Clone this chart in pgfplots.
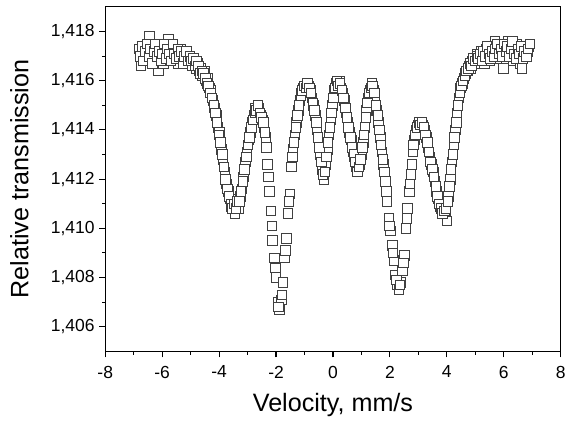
\documentclass[border=0pt]{standalone}
\usepackage{pgfplots}
\pgfplotsset{compat=1.18}
\usepackage{fontspec}
\setmainfont{Liberation Sans}
\pgfplotstableread{
x y
-6.80 1.4173
-6.74 1.4166
-6.68 1.4171
-6.62 1.4174
-6.56 1.4169
-6.50 1.4172
-6.44 1.4178
-6.38 1.4170
-6.32 1.4175
-6.26 1.4168
-6.20 1.4173
-6.14 1.4164
-6.08 1.4170
-6.02 1.4174
-5.96 1.4167
-5.90 1.4172
-5.84 1.4170
-5.78 1.4177
-5.72 1.4169
-5.66 1.4174
-5.60 1.4168
-5.54 1.4172
-5.48 1.4170
-5.42 1.4167
-5.36 1.4173
-5.30 1.4169
-5.24 1.4171
-5.18 1.4168
-5.12 1.4170
-5.06 1.4167
-5.00 1.4169
-4.94 1.4166
-4.88 1.4168
-4.82 1.4165
-4.76 1.4167
-4.70 1.4164
-4.64 1.4165
-4.58 1.4162
-4.52 1.4164
-4.46 1.4160
-4.40 1.4161
-4.34 1.4157
-4.28 1.4156
-4.22 1.4152
-4.16 1.4149
-4.10 1.4146
-4.04 1.4141
-3.98 1.4139
-3.92 1.4132
-3.86 1.4128
-3.80 1.4123
-3.74 1.4118
-3.68 1.4115
-3.62 1.4112
-3.56 1.4109
-3.50 1.4112
-3.44 1.4106
-3.38 1.4110
-3.32 1.4108
-3.26 1.4113
-3.20 1.4116
-3.14 1.4121
-3.08 1.4127
-3.02 1.4131
-2.96 1.4136
-2.90 1.4139
-2.84 1.4143
-2.78 1.4146
-2.72 1.4149
-2.66 1.4147
-2.60 1.4149
-2.54 1.4146
-2.48 1.4144
-2.42 1.4141
-2.36 1.4137
-2.30 1.4126
-2.24 1.4115
-2.18 1.4107
-2.12 1.4095
-2.06 1.4088
-2.00 1.4080
-1.94 1.4070
-1.88 1.4067
-1.82 1.4071
-1.76 1.4078
-1.70 1.4088
-1.64 1.4096
-1.58 1.4106
-1.52 1.4114
-1.46 1.4125
-1.40 1.4132
-1.34 1.4138
-1.28 1.4143
-1.22 1.4148
-1.16 1.4152
-1.10 1.4155
-1.04 1.4157
-0.98 1.4158
-0.92 1.4157
-0.86 1.4158
-0.80 1.4156
-0.74 1.4153
-0.68 1.4150
-0.62 1.4146
-0.56 1.4140
-0.50 1.4135
-0.44 1.4130
-0.38 1.4124
-0.32 1.4120
-0.26 1.4126
-0.20 1.4132
-0.14 1.4138
-0.08 1.4144
-0.02 1.4150
0.04 1.4156
0.10 1.4159
0.16 1.4158
0.22 1.4160
0.28 1.4157
0.34 1.4155
0.40 1.4152
0.46 1.4147
0.52 1.4143
0.58 1.4139
0.64 1.4136
0.70 1.4131
0.76 1.4129
0.82 1.4125
0.88 1.4124
0.94 1.4126
1.00 1.4130
1.06 1.4135
1.12 1.4141
1.18 1.4148
1.24 1.4153
1.30 1.4156
1.36 1.4159
1.42 1.4156
1.48 1.4153
1.54 1.4148
1.60 1.4143
1.66 1.4137
1.72 1.4131
1.78 1.4126
1.84 1.4119
1.90 1.4111
1.96 1.4104
2.02 1.4099
2.08 1.4093
2.14 1.4087
2.20 1.4081
2.26 1.4077
2.32 1.4075
2.38 1.4078
2.44 1.4083
2.50 1.4089
2.56 1.4100
2.62 1.4108
2.68 1.4115
2.74 1.4122
2.80 1.4131
2.86 1.4136
2.92 1.4140
2.98 1.4142
3.04 1.4141
3.10 1.4143
3.16 1.4142
3.22 1.4140
3.28 1.4137
3.34 1.4133
3.40 1.4129
3.46 1.4126
3.52 1.4123
3.58 1.4119
3.64 1.4115
3.70 1.4112
3.76 1.4109
3.82 1.4107
3.88 1.4108
3.94 1.4106
4.00 1.4103
4.06 1.4113
4.12 1.4120
4.18 1.4127
4.24 1.4134
4.30 1.4140
4.36 1.4147
4.42 1.4153
4.48 1.4157
4.54 1.4159
4.60 1.4161
4.66 1.4163
4.72 1.4164
4.78 1.4166
4.84 1.4165
4.90 1.4168
4.96 1.4167
5.02 1.4169
5.08 1.4171
5.14 1.4168
5.20 1.4172
5.26 1.4170
5.32 1.4167
5.38 1.4173
5.44 1.4171
5.50 1.4168
5.56 1.4174
5.62 1.4170
5.68 1.4176
5.74 1.4172
5.80 1.4169
5.86 1.4175
5.92 1.4171
5.98 1.4165
6.04 1.4173
6.10 1.4169
6.16 1.4176
6.22 1.4171
6.28 1.4175
6.34 1.4168
6.40 1.4172
6.46 1.4175
6.52 1.4170
6.58 1.4167
6.64 1.4165
6.70 1.4171
6.76 1.4174
6.82 1.4172
6.88 1.4174
}\dataA
\pgfplotstableread{
x y
-6.77 1.4170
-6.71 1.4174
-6.65 1.4168
-6.59 1.4172
-6.53 1.4175
-6.47 1.4170
-6.41 1.4173
-6.35 1.4167
-6.29 1.4172
-6.23 1.4175
-6.17 1.4170
-6.11 1.4172
-6.05 1.4168
-5.99 1.4171
-5.93 1.4175
-5.87 1.4169
-5.81 1.4173
-5.75 1.4171
-5.69 1.4168
-5.63 1.4175
-5.57 1.4171
-5.51 1.4169
-5.45 1.4173
-5.39 1.4170
-5.33 1.4172
-5.27 1.4167
-5.21 1.4170
-5.15 1.4172
-5.09 1.4168
-5.03 1.4170
-4.97 1.4168
-4.91 1.4169
-4.85 1.4166
-4.79 1.4168
-4.73 1.4166
-4.67 1.4163
-4.61 1.4164
-4.55 1.4163
-4.49 1.4161
-4.43 1.4159
-4.37 1.4158
-4.31 1.4155
-4.25 1.4153
-4.19 1.4150
-4.13 1.4147
-4.07 1.4143
-4.01 1.4138
-3.95 1.4135
-3.89 1.4130
-3.83 1.4125
-3.77 1.4120
-3.71 1.4116
-3.65 1.4113
-3.59 1.4110
-3.53 1.4108
-3.47 1.4110
-3.41 1.4108
-3.35 1.4111
-3.29 1.4111
-3.23 1.4115
-3.17 1.4119
-3.11 1.4124
-3.05 1.4129
-2.99 1.4134
-2.93 1.4137
-2.87 1.4141
-2.81 1.4144
-2.75 1.4147
-2.69 1.4148
-2.63 1.4150
-2.57 1.4147
-2.51 1.4145
-2.45 1.4143
-2.39 1.4139
-2.33 1.4133
-2.27 1.4121
-2.15 1.4101
-2.03 1.4084
-1.91 1.4068
-1.79 1.4073
-1.67 1.4091
-1.55 1.4111
-1.43 1.4129
-1.37 1.4135
-1.31 1.4141
-1.25 1.4146
-1.19 1.4150
-1.13 1.4154
-1.07 1.4156
-1.01 1.4158
-0.95 1.4157
-0.89 1.4159
-0.83 1.4157
-0.77 1.4155
-0.71 1.4151
-0.65 1.4148
-0.59 1.4143
-0.53 1.4137
-0.47 1.4133
-0.41 1.4127
-0.35 1.4122
-0.29 1.4123
-0.23 1.4129
-0.17 1.4135
-0.11 1.4141
-0.05 1.4147
0.01 1.4153
0.07 1.4157
0.13 1.4160
0.19 1.4158
0.25 1.4159
0.31 1.4156
0.37 1.4153
0.43 1.4149
0.49 1.4145
0.55 1.4141
0.61 1.4137
0.67 1.4133
0.73 1.4130
0.79 1.4127
0.85 1.4123
0.91 1.4125
0.97 1.4128
1.03 1.4133
1.09 1.4138
1.15 1.4145
1.21 1.4151
1.27 1.4155
1.33 1.4157
1.39 1.4158
1.45 1.4155
1.51 1.4150
1.57 1.4146
1.63 1.4140
1.69 1.4134
1.75 1.4128
1.81 1.4123
1.87 1.4115
1.99 1.4101
2.11 1.4090
2.23 1.4079
2.35 1.4077
2.47 1.4086
2.59 1.4104
2.71 1.4118
2.77 1.4126
2.83 1.4134
2.89 1.4138
2.95 1.4141
3.01 1.4143
3.07 1.4142
3.13 1.4143
3.19 1.4141
3.25 1.4138
3.31 1.4135
3.37 1.4131
3.43 1.4127
3.49 1.4124
3.55 1.4121
3.61 1.4117
3.67 1.4113
3.73 1.4110
3.79 1.4108
3.85 1.4106
3.91 1.4107
3.97 1.4108
4.03 1.4111
4.09 1.4117
4.15 1.4124
4.21 1.4130
4.27 1.4137
4.33 1.4143
4.39 1.4150
4.45 1.4155
4.51 1.4158
4.57 1.4160
4.63 1.4162
4.69 1.4164
4.75 1.4165
4.81 1.4167
4.87 1.4166
4.93 1.4169
4.99 1.4168
5.05 1.4170
5.11 1.4169
5.17 1.4171
5.23 1.4168
5.29 1.4172
5.35 1.4170
5.41 1.4174
5.47 1.4171
5.53 1.4169
5.59 1.4172
5.65 1.4170
5.71 1.4173
5.77 1.4175
5.83 1.4171
5.89 1.4173
5.95 1.4170
6.01 1.4175
6.07 1.4172
6.13 1.4174
6.19 1.4170
6.25 1.4173
6.31 1.4176
6.37 1.4171
6.43 1.4169
6.49 1.4173
6.55 1.4171
6.61 1.4174
6.67 1.4169
6.73 1.4172
6.79 1.4170
6.85 1.4173
6.91 1.4175
}\dataB
\begin{document}
\begin{tikzpicture}[x=1pt,y=1pt]
\path (-79.5,-66) rectangle (348,265.5);
\begin{axis}[
  at={(0,0)}, anchor=south west,
  scale only axis, width=344.25pt, height=260.25pt,
  xmin=-8, xmax=8, ymin=1.405, ymax=1.419,
  xtick={-8,-6,...,8},
  ytick={1.406,1.408,1.410,1.412,1.414,1.416,1.418},
  minor x tick num=1, minor y tick num=1,
  tick align=outside, xtick pos=bottom, ytick pos=left,
  major tick length=4.5pt, minor tick length=2.4pt,
  axis line style={line width=0.8pt},
  every tick/.style={black, line width=0.8pt},
  /pgf/number format/assume math mode=true,
  tick label style={font=\fontsize{13.2}{15}\selectfont},
  yticklabel style={/pgf/number format/fixed, /pgf/number format/fixed zerofill, /pgf/number format/precision=3, /pgf/number format/use comma, /pgf/number format/1000 sep={}},
  xticklabel style={yshift=-3pt, /pgf/number format/fixed, /pgf/number format/precision=0},
  label style={font=\fontsize{19}{22}\selectfont},
  xlabel={Velocity, mm/s},
  ylabel={Relative transmission},
  xlabel style={at={(axis description cs:0.5,-0.176)}, anchor=base},
  ylabel style={at={(axis description cs:-0.1885,0.5)}, anchor=center, rotate=0},
  clip=false,
]
\addplot[only marks, mark=square*, mark size=3.6pt,
  mark options={draw=black!75, fill=white, line width=0.6pt}] table {\dataA};
\addplot[only marks, mark=square*, mark size=3.6pt,
  mark options={draw=black!75, fill=white, line width=0.6pt}] table {\dataB};
\end{axis}
\end{tikzpicture}
\end{document}
